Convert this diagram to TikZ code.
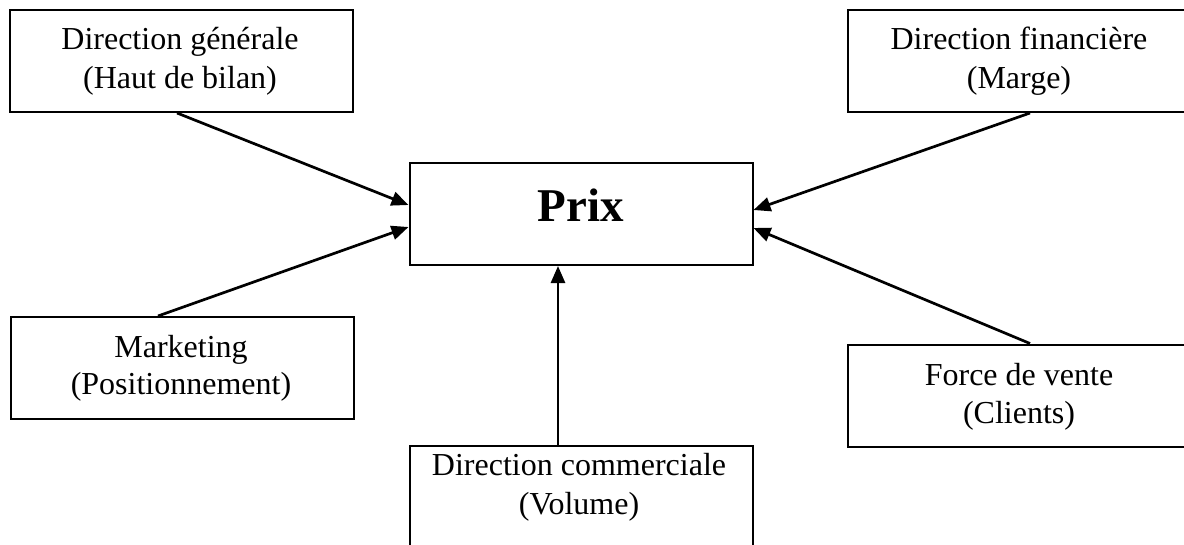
\documentclass[tikz,border=0pt]{standalone}
\usepackage{fontspec}
\setmainfont{Liberation Serif}
\usetikzlibrary{arrows.meta}
\begin{document}
\begin{tikzpicture}[x=1pt,y=-1pt,
  box/.style={draw=black, line width=2pt, rectangle, inner sep=0pt,
    minimum width=343pt, minimum height=102pt},
  txt/.style={anchor=base, inner sep=0pt, font=\fontsize{32}{38}\selectfont},
  big/.style={anchor=base, inner sep=0pt, font=\fontsize{47}{56}\selectfont\bfseries},
  arr/.style={line width=2.7pt, -{Triangle[length=17pt,width=14pt]}}]
\useasboundingbox (0,0) rectangle (1184,544);
\clip (0,0) rectangle (1184,544);

% boxes
\node[box] (dg)   at (181.5,61)  {};
\node[box] (df)   at (1019,61)   {};
\node[box] (prix) at (581,214)   {};
\node[box] (mk)   at (182,368)   {};
\node[box] (fv)   at (1019,395.5){};
\node[box] (dc)   at (581,497)   {};

% labels
\node[txt] (dg1) at (180,49)  {Direction générale};
\node[txt] (dg2) at (180,88)  {(Haut de bilan)};
\node[txt] (df1) at (1019,49) {Direction financière};
\node[txt] (df2) at (1019,88) {(Marge)};
\node[big] (px)  at (581,221) {Prix};
\node[txt] (mk1) at (181,357) {Marketing};
\node[txt] (mk2) at (181,394) {(Positionnement)};
\node[txt] (fv1) at (1019,385) {Force de vente};
\node[txt] (fv2) at (1019,423) {(Clients)};
\node[txt] (dc1) at (579,475) {Direction commerciale};
\node[txt] (dc2) at (579,514) {(Volume)};

% connectors into the central box
\draw[arr] ([xshift=-4.5pt]dg.south) -- ([yshift=9pt]prix.west);
\draw[arr] ([xshift=-24pt]mk.north) -- ([yshift=-13pt]prix.west);
\draw[arr] ([xshift=11pt]df.south) -- ([yshift=4pt]prix.east);
\draw[arr] ([xshift=11pt]fv.north) -- ([yshift=-14pt]prix.east);
\draw[arr] ([xshift=-23pt]dc.north) -- ([xshift=-23pt]prix.south);
\end{tikzpicture}
\end{document}
